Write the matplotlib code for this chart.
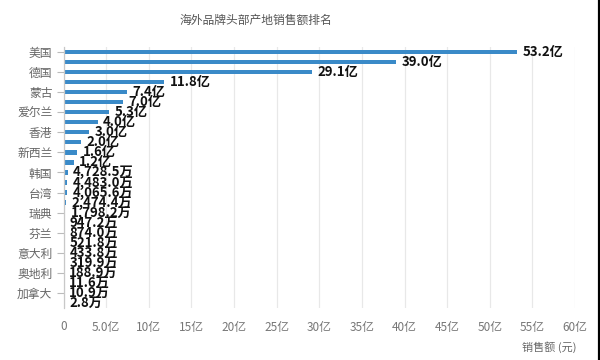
import matplotlib
matplotlib.use("Agg")
import matplotlib.pyplot as plt
from matplotlib.lines import Line2D

plt.rcParams['font.family'] = ['Noto Sans CJK SC', 'DejaVu Sans']

title = "海外品牌头部产地销售额排名"
# category labels (only every other one is shown in the reference)
categories = ['美国', '', '德国', '', '蒙古', '', '爱尔兰', '', '香港', '', '新西兰', '',
              '韩国', '', '台湾', '', '瑞典', '', '芬兰', '', '意大利', '', '奥地利', '',
              '加拿大', '']
# sales in 万元
values_wan = [532000, 390000, 291000, 118000, 74000, 70000, 53000, 40000, 30000, 20000,
              16000, 12000, 4728.5, 4483.0, 4065.6, 2474.4, 1798.2, 947.2, 874.0, 521.8,
              433.8, 319.9, 188.9, 11.6, 10.9, 2.8]
x_ticks = [0, 5, 10, 15, 20, 25, 30, 35, 40, 45, 50, 55, 60]
x_ticklabels = ['0', '5.0亿', '10亿', '15亿', '20亿', '25亿', '30亿', '35亿', '40亿',
                '45亿', '50亿', '55亿', '60亿']
x_axis_name = "销售额 (元)"


def fmt(v):
    if v >= 10000:
        return f"{v / 10000:.1f}亿"
    return f"{v:,.1f}万"


fig = plt.figure(figsize=(6, 3.6), dpi=100)
ax = fig.add_axes([63.5 / 600, 1 - 308 / 360, (575 - 63.5) / 600, (308 - 47) / 360])

n = len(values_wan)
ypos = list(range(n))
vals_yi = [v / 10000 for v in values_wan]
ax.barh(ypos, vals_yi, height=0.42, color='#3a8ac8', zorder=3)
for y, v, vy in zip(ypos, values_wan, vals_yi):
    ax.annotate(fmt(v), (vy, y), xytext=(4, 0), textcoords='offset points',
                va='center', ha='left', fontsize=9.5, fontweight='bold', color='#111111',
                zorder=4)

ax.set_ylim(n - 0.5, -0.5)
ax.set_xlim(0, 60)
shown = [i for i, c in enumerate(categories) if c]
ax.set_yticks(shown)
ax.set_yticklabels([categories[i] for i in shown], fontsize=8.5, color='#666666')
ax.set_xticks(x_ticks)
ax.set_xticklabels(x_ticklabels, fontsize=8.5, color='#777777')
ax.tick_params(axis='y', length=5, width=0.8, color='#bbbbbb', pad=3)
ax.tick_params(axis='x', length=0, pad=9)
ax.grid(axis='x', color='#e8e8e8', linewidth=0.9, zorder=0)
for s in ['top', 'right', 'bottom']:
    ax.spines[s].set_visible(False)
ax.spines['left'].set_color('#c8c8c8')
ax.spines['left'].set_linewidth(0.9)
ax.spines['left'].set_zorder(5)

fig.text(256 / 600, 1 - 20 / 360, title, ha='center', va='center', fontsize=8.5,
         color='#555555')
fig.text(577 / 600, 1 - 347 / 360, x_axis_name, ha='right', va='center', fontsize=8,
         color='#666666')

fig.add_artist(Line2D([598.5 / 600, 598.5 / 600], [0, 1], transform=fig.transFigure,
                      color='black', linewidth=2.3))

fig.savefig('out.png', dpi=100, facecolor='white')
